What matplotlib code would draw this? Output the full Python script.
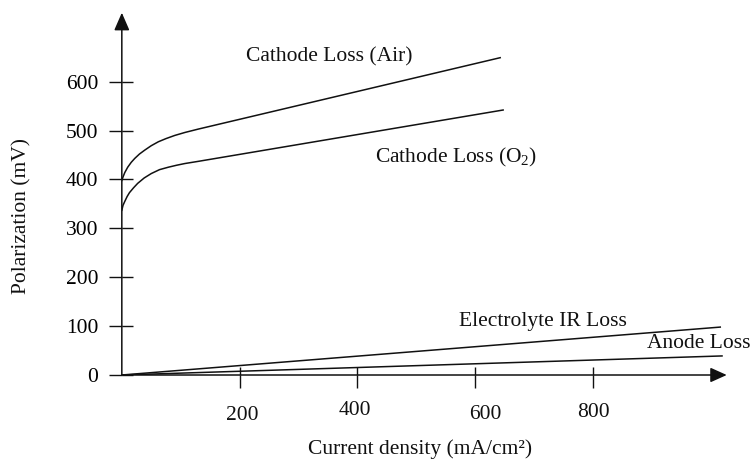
import matplotlib
matplotlib.use('Agg')
import matplotlib.pyplot as plt

# polarization curves (current density in mA/cm2, polarization in mV)
air_x = [0, 2, 5, 10, 16, 22, 30, 39, 50, 62, 75, 90, 107, 130, 643]
air_y = [398, 405, 414, 425, 435, 443, 452, 460, 469, 477, 483.5, 490, 496, 503, 649]

o2_x = [0, 2, 5, 9, 13, 20, 27, 38, 50, 64, 79, 93, 107, 130, 648]
o2_y = [337, 347, 355, 365, 373, 383, 392, 403, 412, 420, 425, 429, 432.5, 437, 542]

ir_x = [0, 1017]
ir_y = [0, 98]

anode_x = [0, 1020]
anode_y = [0, 39]

x_ticks = [200, 400, 600, 800]
x_tick_labels = ['200', '400', '600', '800']
y_ticks = [0, 100, 200, 300, 400, 500, 600]

plt.rcParams['font.family'] = ['Liberation Serif', 'DejaVu Serif']
plt.rcParams['mathtext.fontset'] = 'custom'
plt.rcParams['mathtext.rm'] = 'Liberation Serif'
plt.rcParams['mathtext.it'] = 'Liberation Serif:italic'
FS = 15.5
INK = '#111111'

fig = plt.figure(figsize=(7.52, 4.59), dpi=100)
ax = fig.add_axes([0.162, 0.183, 0.8044, 0.7893])
ax.set_xlim(0, 1028)
ax.set_ylim(0, 741)

for s in ax.spines.values():
    s.set_visible(False)

# axes drawn as arrows
arrow = dict(arrowstyle='-|>,head_length=1.0,head_width=0.45', color=INK, lw=1.1,
             shrinkA=0, shrinkB=0)
ax.annotate('', xy=(1, 0), xytext=(0, 0), xycoords='axes fraction', size=10, arrowprops=arrow)
arrow_y = dict(arrow, arrowstyle='-|>,head_length=1.08,head_width=0.47')
ax.annotate('', xy=(0, 1), xytext=(0, 0), xycoords='axes fraction', size=10, arrowprops=arrow_y)

# ticks cross the axis: long part outside (major), short part inside (minor)
ax.set_xticks(x_ticks)
ax.set_xticks(x_ticks, minor=True)
ax.set_yticks(y_ticks)
ax.set_yticks(y_ticks, minor=True)
ax.xaxis.remove_overlapping_locs = False
ax.yaxis.remove_overlapping_locs = False
ax.tick_params(axis='x', which='major', direction='out', length=9.4, width=1.0, color=INK,
               labelbottom=False)
ax.tick_params(axis='x', which='minor', direction='in', length=5.8, width=1.0, color=INK)
ax.tick_params(axis='y', which='major', direction='out', length=9.4, width=1.0, color=INK,
               pad=7.7, labelsize=FS)
ax.tick_params(axis='y', which='minor', direction='in', length=8.0, width=1.0, color=INK)

# x tick labels sit a little unevenly in the original
x_label_pos = [(205, -92.7), (396, -82.4), (617, -90), (801, -86.5)]
for lab, (lx, ly) in zip(x_tick_labels, x_label_pos):
    ax.text(lx, ly, lab, fontsize=FS, ha='center', va='baseline', color=INK)

ax.plot(air_x, air_y, color=INK, lw=1.1)
ax.plot(o2_x, o2_y, color=INK, lw=1.1)
ax.plot(ir_x, ir_y, color=INK, lw=1.1)
ax.plot(anode_x, anode_y, color=INK, lw=1.1)

ax.text(353, 650, 'Cathode Loss (Air)', fontsize=FS, ha='center', va='center', color=INK)
ax.text(568, 444, 'Cathode Loss (O$_2$)', fontsize=FS, ha='center', va='center', color=INK)
ax.text(716, 109, 'Electrolyte IR Loss', fontsize=FS, ha='center', va='center', color=INK)
ax.text(980, 65, 'Anode Loss', fontsize=FS, ha='center', va='center', color=INK)

ax.set_xlabel('Current density (mA/cm²)', fontsize=FS, color=INK, va='center')
ax.xaxis.set_label_coords(0.493, -0.2043)
ax.set_ylabel('Polarization (mV)', fontsize=FS, color=INK, va='center')
ax.yaxis.set_label_coords(-0.1655, 0.4389)

fig.savefig('out.png', dpi=100)
